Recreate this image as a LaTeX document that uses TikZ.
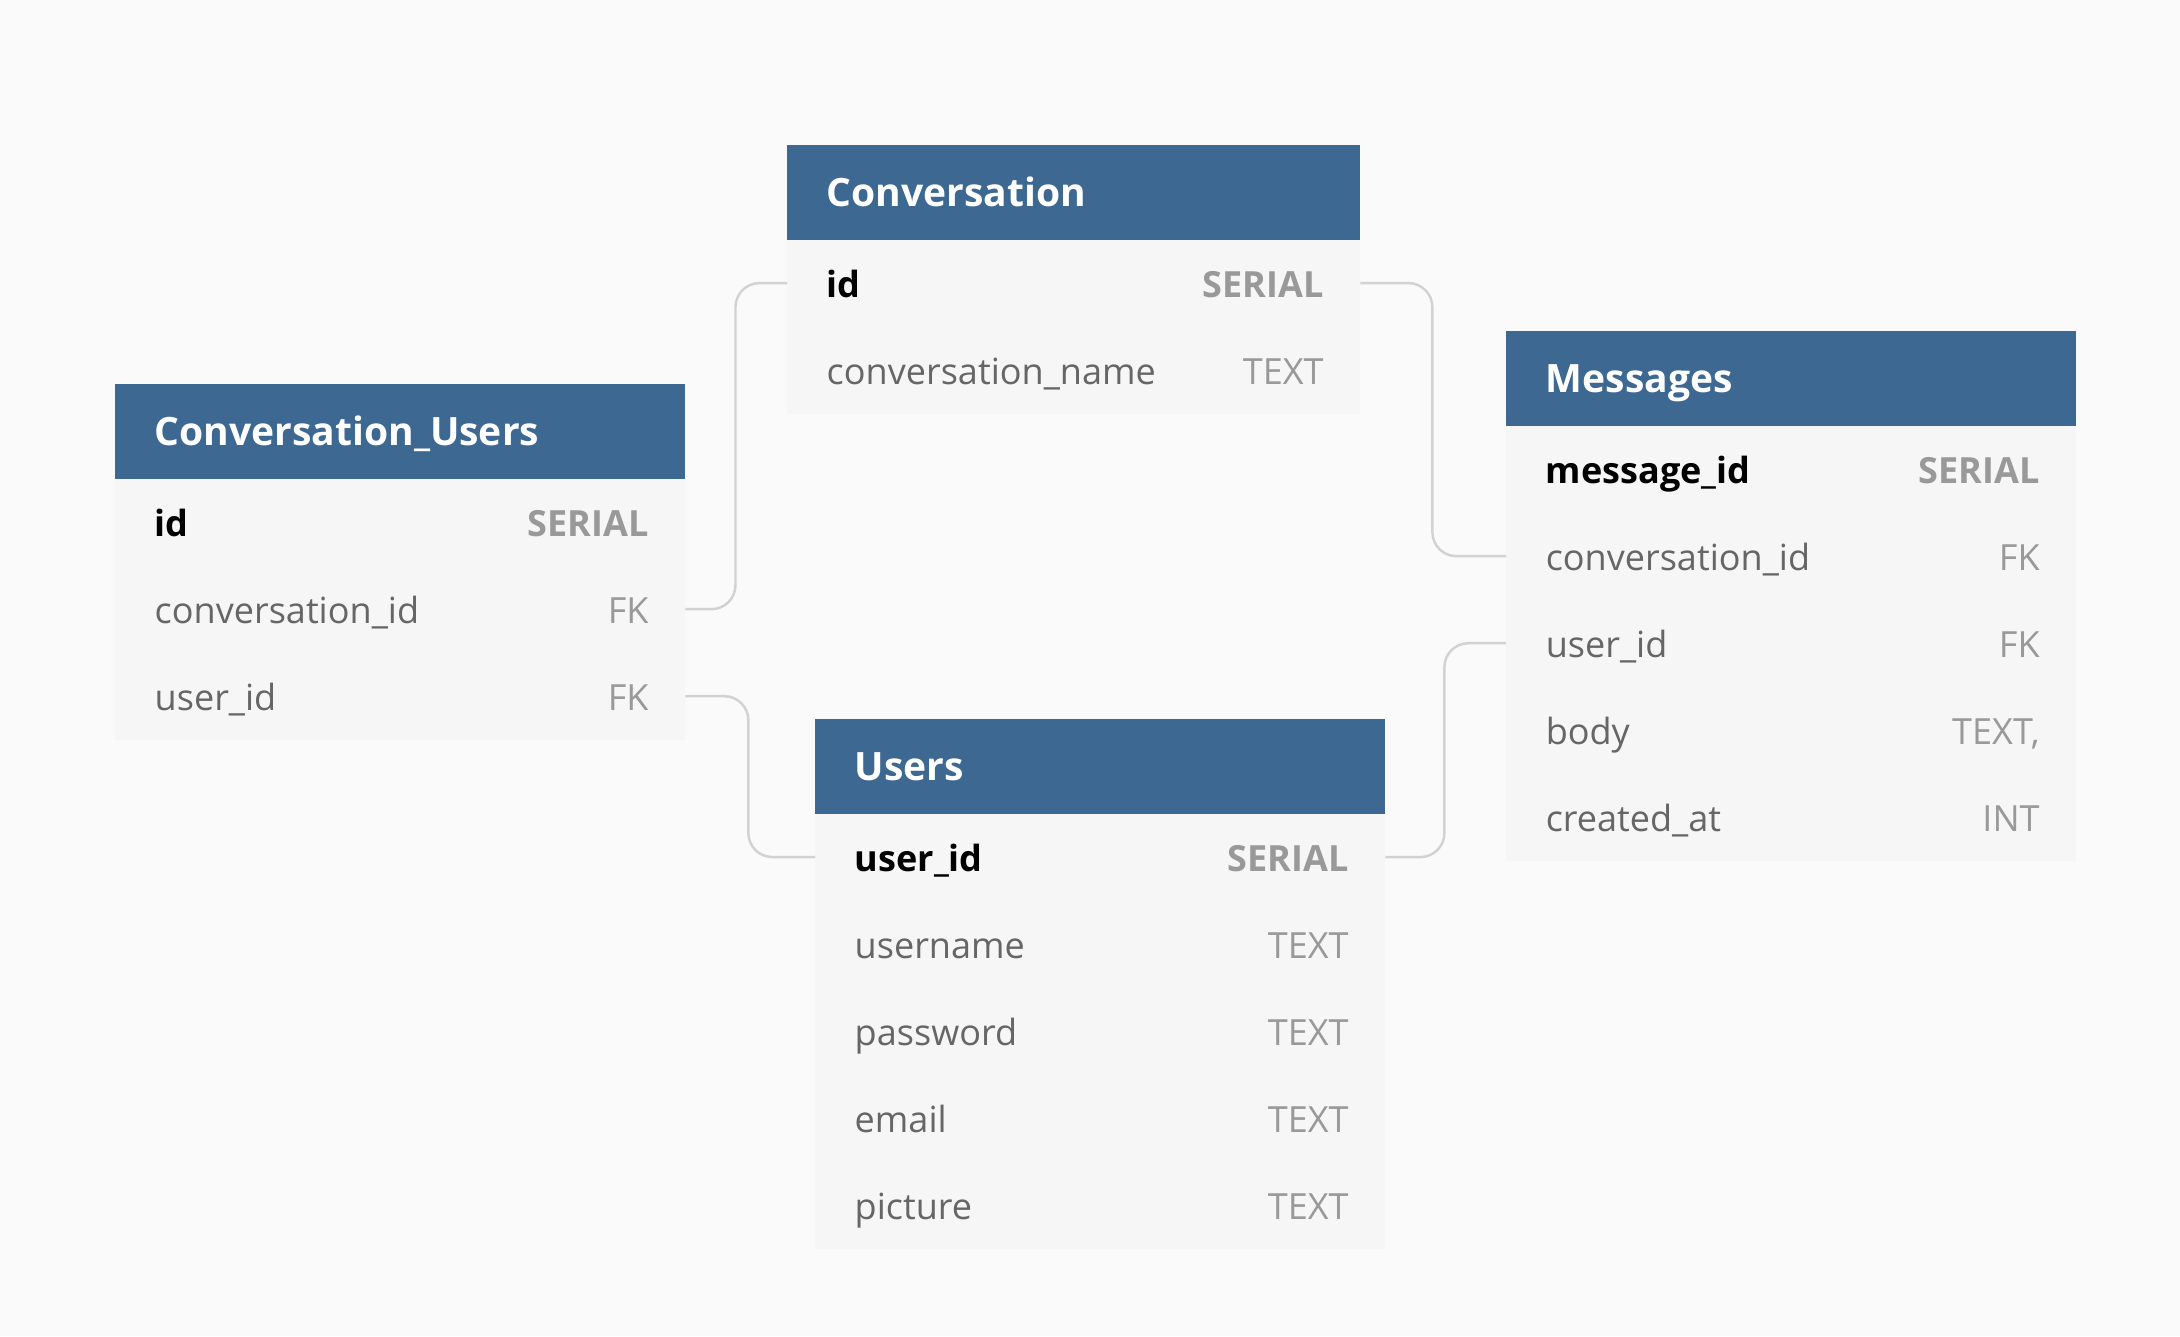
\documentclass[tikz,border=0pt]{standalone}
\usepackage{fontspec}
\setmainfont{Open Sans}
\definecolor{pagebg}{HTML}{FAFAFA}
\definecolor{hdrblue}{HTML}{3D6891}
\definecolor{rowbg}{HTML}{F6F6F6}
\definecolor{fieldgray}{HTML}{666666}
\definecolor{typegray}{HTML}{999999}
\definecolor{linkgray}{HTML}{D2D2D2}
\tikzset{
  tablewidth/.store in=\tblwidth, tablewidth=5.70cm,
  hdr/.style={rectangle, fill=hdrblue, draw=none, inner sep=0pt, outer sep=0pt,
    minimum width=\tblwidth, minimum height=0.945cm},
  rowbox/.style={rectangle, fill=rowbg, draw=none, inner sep=0pt, outer sep=0pt,
    minimum width=\tblwidth, minimum height=0.87cm},
  hdrtext/.style={inner sep=0pt, text=white, font=\fontsize{11.1pt}{13pt}\selectfont\bfseries},
  keytext/.style={inner sep=0pt, text=black, font=\fontsize{10.25pt}{12pt}\selectfont\bfseries},
  fieldtext/.style={inner sep=0pt, text=fieldgray, font=\fontsize{10.25pt}{12pt}\selectfont},
  keytype/.style={inner sep=0pt, text=typegray, font=\fontsize{10.25pt}{12pt}\selectfont\bfseries},
  typetext/.style={inner sep=0pt, text=typegray, font=\fontsize{10.25pt}{12pt}\selectfont},
  link/.style={draw=linkgray, line width=0.7pt, rounded corners=0.24cm},
}
% table header: name, position, title
\newcommand{\erhead}[3]{%
  \node[hdr, anchor=north west] (#1) at (#2) {};
  \node[hdrtext, anchor=base west] (#1-title) at ([xshift=0.39cm, yshift=-0.14cm]#1.west) {#3};
}
% table row: name, node above, field, type, field style, type style
\newcommand{\errow}[6]{%
  \node[rowbox, anchor=north west] (#1) at (#2.south west) {};
  \node[#5, anchor=base west] (#1-f) at ([xshift=0.39cm, yshift=-0.14cm]#1.west) {#3};
  \node[#6, anchor=base east] (#1-t) at ([xshift=-0.36cm, yshift=-0.14cm]#1.east) {#4};
}
\begin{document}
\begin{tikzpicture}[x=0.01cm, y=-0.01cm]
  \fill[pagebg] (0,0) rectangle (2180,1336);
  \useasboundingbox (0,0) rectangle (2180,1336);

  % Conversation
  \begin{scope}[tablewidth=5.73cm]
  \erhead{cv}{787,145}{Conversation}
  \errow{cv-id}{cv}{id}{SERIAL}{keytext}{keytype}
  \errow{cv-name}{cv-id}{conversation\_name}{TEXT}{fieldtext}{typetext}
  \end{scope}

  % Conversation_Users
  \erhead{cu}{115,384}{Conversation\_Users}
  \errow{cu-id}{cu}{id}{SERIAL}{keytext}{keytype}
  \errow{cu-conv}{cu-id}{conversation\_id}{FK}{fieldtext}{typetext}
  \errow{cu-user}{cu-conv}{user\_id}{FK}{fieldtext}{typetext}

  % Messages
  \erhead{ms}{1506,331}{Messages}
  \errow{ms-id}{ms}{message\_id}{SERIAL}{keytext}{keytype}
  \errow{ms-conv}{ms-id}{conversation\_id}{FK}{fieldtext}{typetext}
  \errow{ms-user}{ms-conv}{user\_id}{FK}{fieldtext}{typetext}
  \errow{ms-body}{ms-user}{body}{TEXT,}{fieldtext}{typetext}
  \errow{ms-created}{ms-body}{created\_at}{INT}{fieldtext}{typetext}

  % Users
  \erhead{us}{815,719}{Users}
  \errow{us-id}{us}{user\_id}{SERIAL}{keytext}{keytype}
  \errow{us-name}{us-id}{username}{TEXT}{fieldtext}{typetext}
  \errow{us-pass}{us-name}{password}{TEXT}{fieldtext}{typetext}
  \errow{us-mail}{us-pass}{email}{TEXT}{fieldtext}{typetext}
  \errow{us-pic}{us-mail}{picture}{TEXT}{fieldtext}{typetext}

  % relations
  \draw[link] (cv-id.west) -- ++(-0.515cm,0) |- (cu-conv.east);
  \draw[link] (cu-user.east) -- ++(0.63cm,0) |- (us-id.west);
  \draw[link] (cv-id.east) -- ++(0.72cm,0) |- (ms-conv.west);
  \draw[link] (us-id.east) -- ++(0.59cm,0) |- (ms-user.west);
\end{tikzpicture}
\end{document}
